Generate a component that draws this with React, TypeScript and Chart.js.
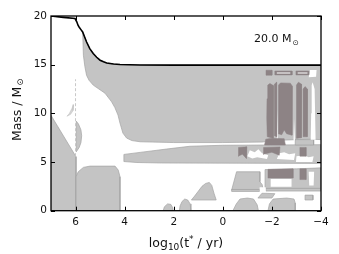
import React, { useEffect, useRef } from 'react';
import { Chart, registerables } from 'chart.js';

Chart.register(...registerables);

type P = [number, number];

// ---- axis ticks ----
const xTicks = [6, 4, 2, 0, -2, -4];
const yTicks = [0, 5, 10, 15, 20];
const starLabel = '20.0 M';

// ---- total stellar mass (log10 t*, M) ----
const totalMass: P[] = [
  [7, 20.0], [6.5, 19.86], [6.02, 19.74], [5.95, 19.4], [5.9, 19.05], [5.85, 18.85],
  [5.78, 18.6], [5.71, 18.36], [5.63, 17.85], [5.55, 17.33], [5.42, 16.65], [5.28, 16.14],
  [5.14, 15.76], [5.0, 15.46], [4.86, 15.3], [4.73, 15.18], [4.45, 15.07], [4.19, 15.02],
  [3.37, 14.96], [2, 14.95], [-4, 14.95],
];

// ---- convective zones (light) ----
const envelope: P[] = [
  [5.71, 18.36], [5.63, 17.85], [5.55, 17.33], [5.42, 16.65], [5.28, 16.14], [5.0, 15.46],
  [4.73, 15.18], [4.45, 15.07], [4.19, 15.02], [3.37, 14.96], [-4, 14.95], [-4, 7.3],
  [-3.6, 7.35], [-3.0, 7.3], [-2.0, 7.2], [-1.6, 7.05], [0, 7.0], [2, 7.0], [3.37, 7.08],
  [3.7, 7.2], [3.92, 7.46], [4.07, 7.97], [4.19, 9.0], [4.27, 9.82], [4.4, 10.6],
  [4.53, 11.18], [4.8, 12.07], [5.05, 12.5], [5.28, 12.9], [5.45, 13.4], [5.55, 13.9],
  [5.62, 14.8], [5.68, 15.97],
];
const leftWedge: P[] = [[7, 9.8], [5.98, 5.54], [5.98, 0], [7, 0]];
const coreBlock: P[] = [
  [5.98, 0], [5.98, 3.49], [5.89, 4.0], [5.68, 4.45], [5.41, 4.58], [4.39, 4.58],
  [4.26, 4.17], [4.19, 3.49], [4.19, 0],
];
const lens: P[] = [[5.97, 9.2], [5.88, 8.9], [5.78, 8.3], [5.75, 7.7], [5.78, 7.0], [5.85, 6.5], [5.97, 6.05]];
const speckle: P[] = [[6.35, 9.7], [6.25, 10.0], [6.15, 10.5], [6.08, 10.9], [6.1, 10.3], [6.2, 9.9]];
const shellBand: P[] = [
  [4.03, 5.05], [4.03, 5.78], [3.37, 5.99], [2.3, 6.33], [1.34, 6.62], [0, 6.72],
  [-4, 6.78], [-4, 4.86], [2.5, 4.9], [3.5, 4.95],
];
const lowerLeftPiece: P[] = [[-0.56, 4.0], [-1.51, 4.0], [-1.51, 2.97], [-1.6, 2.7], [-1.65, 2.12], [-0.36, 2.12]];
const lowerStripA: P[] = [[-0.36, 2.18], [-1.5, 2.18], [-1.5, 1.98], [-0.36, 1.98]];
const lowerStripB: P[] = [[-1.75, 2.3], [-4, 2.3], [-4, 2.02], [-1.75, 2.02]];
const lowerRightPiece: P[] = [[-1.72, 4.22], [-3.0, 4.3], [-4, 4.4], [-4, 2.3], [-1.72, 2.3]];
const fin: P[] = [[1.28, 1.1], [1.15, 1.5], [1.0, 2.0], [0.85, 2.5], [0.7, 2.8], [0.55, 2.9], [0.45, 2.6], [0.36, 1.8], [0.27, 1.1]];
const domeA: P[] = [[2.43, 0], [2.38, 0.4], [2.25, 0.7], [2.12, 0.65], [2.04, 0.3], [2.02, 0]];
const domeB: P[] = [[1.77, 0], [1.74, 0.5], [1.66, 0.95], [1.55, 1.2], [1.43, 1.1], [1.33, 0.7], [1.3, 0]];
const domeC: P[] = [[-0.41, 0], [-0.55, 0.7], [-0.7, 1.2], [-1.0, 1.3], [-1.25, 1.2], [-1.4, 0.6], [-1.45, 0]];
const domeD: P[] = [[-1.84, 0], [-1.9, 0.7], [-2.05, 1.2], [-2.6, 1.3], [-2.9, 1.2], [-2.95, 0.8], [-2.95, 0]];
const bitA: P[] = [[-1.43, 1.3], [-1.6, 1.8], [-2.12, 1.75], [-2.0, 1.3]];
const bitB: P[] = [[-3.35, 1.1], [-3.35, 1.6], [-3.67, 1.6], [-3.67, 1.1]];
const bridgeLight: P[] = [[-2.95, 6.75], [-2.95, 7.3], [-3.7, 7.3], [-3.7, 6.75]];

// ---- dark (overlapping) zones ----
const darkTop1: P[] = [[-1.76, 13.92], [-1.76, 14.43], [-2.0, 14.43], [-2.0, 13.92]];
const darkTop2: P[] = [[-2.12, 13.95], [-2.12, 14.35], [-2.82, 14.35], [-2.82, 13.95]];
const darkTop3: P[] = [[-2.98, 13.95], [-2.98, 14.35], [-3.5, 14.35], [-3.5, 13.95]];
const stripe1: P[] = [[-1.81, 7.6], [-1.79, 9.5], [-1.8, 11.5], [-1.83, 12.9], [-1.92, 13.07], [-2.06, 12.85], [-2.05, 10.0], [-2.06, 7.45]];
const stripe2: P[] = [[-2.1, 7.7], [-2.1, 13.0], [-2.19, 13.2], [-2.19, 7.6]];
const stripe3: P[] = [[-2.26, 7.9], [-2.27, 12.9], [-2.35, 13.13], [-2.75, 13.1], [-2.83, 12.8], [-2.82, 7.76], [-2.6, 7.9], [-2.5, 8.3], [-2.4, 7.8]];
const stripe4: P[] = [[-3.0, 7.43], [-3.0, 12.9], [-3.08, 13.2], [-3.21, 13.0], [-3.2, 7.5]];
const stripe5: P[] = [[-3.28, 7.6], [-3.27, 12.5], [-3.35, 12.75], [-3.45, 12.5], [-3.44, 7.6]];
const bridgeDark: P[] = [[-1.7, 6.75], [-1.75, 7.35], [-2.0, 7.45], [-2.5, 7.4], [-2.55, 6.75]];
const bandDark1: P[] = [[-0.62, 5.6], [-0.64, 6.5], [-0.98, 6.56], [-0.96, 5.37], [-0.8, 5.8]];
const bandDark2: P[] = [[-1.64, 5.8], [-1.66, 6.5], [-2.33, 6.55], [-2.3, 5.7], [-2.0, 6.0]];
const bandDark3: P[] = [[-3.14, 5.6], [-3.14, 6.5], [-3.39, 6.5], [-3.39, 5.6]];
const lowDark1: P[] = [[-1.84, 4.25], [-2.86, 4.3], [-2.86, 3.35], [-1.84, 3.35]];
const lowDark2: P[] = [[-3.14, 4.3], [-3.39, 4.3], [-3.39, 3.2], [-3.14, 3.2]];

// ---- gaps (radiative streaks) ----
const gapTop1: P[] = [[-2.2, 14.1], [-2.2, 14.2], [-2.75, 14.2], [-2.75, 14.1]];
const gapTop2: P[] = [[-3.05, 14.1], [-3.05, 14.2], [-3.45, 14.2], [-3.45, 14.1]];
const gapTop3: P[] = [[-3.5, 13.7], [-3.55, 14.45], [-3.82, 14.45], [-3.8, 13.75]];
const gapStreak1: P[] = [[-3.58, 7.3], [-3.6, 10], [-3.62, 12.9], [-3.66, 13.2], [-3.74, 12.5], [-3.76, 10.0], [-3.78, 7.3]];
const gapStreak2: P[] = [[-2.2, 7.2], [-2.22, 10.5], [-2.24, 7.2]];
const gapStreak3: P[] = [[-2.88, 7.2], [-2.9, 9.5], [-2.94, 7.2]];
const bandGap1: P[] = [[-1.0, 5.6], [-1.1, 6.2], [-1.3, 6.0], [-1.45, 6.3], [-1.6, 5.9], [-1.85, 5.7], [-1.8, 5.3], [-1.4, 5.5], [-1.2, 5.35]];
const bandGap2: P[] = [[-2.2, 5.3], [-2.3, 5.9], [-2.5, 6.0], [-2.7, 5.8], [-2.95, 5.9], [-2.9, 5.2]];
const bandGap3: P[] = [[-2.98, 5.0], [-3.0, 5.6], [-3.3, 5.7], [-3.5, 5.5], [-3.7, 5.6], [-3.65, 5.0]];
const lowGap1: P[] = [[-1.95, 3.25], [-2.8, 3.25], [-2.8, 2.45], [-1.95, 2.45]];
const lowGap2: P[] = [[-3.5, 4.0], [-3.72, 4.0], [-3.7, 2.6], [-3.52, 2.6]];
const lowGap3: P[] = [[-1.5, 2.4], [-1.75, 2.4], [-1.75, 1.9], [-1.5, 1.9]];

const faintLine: P[] = [[6.0, 5.6], [6.0, 13.5]];

const LIGHT = '#c4c4c4';
const PALE = '#d6d6d6';
const DARK = '#8d8385';
const EDGE = '#a4a4a4';
const WHITE = '#ffffff';

const layers: { pts: P[]; fill: string; edge: string; bw: number }[] = [
  ...[envelope, leftWedge, coreBlock, lens, shellBand, lowerLeftPiece, lowerStripA, lowerStripB,
    lowerRightPiece, fin, domeA, domeB, domeC, domeD, bitA, bitB, bridgeLight].map((pts) => ({ pts, fill: LIGHT, edge: EDGE, bw: 0.7 })),
  { pts: speckle, fill: PALE, edge: '#bdbdbd', bw: 0.5 },
  ...[gapStreak1, gapStreak2, gapStreak3, bandGap1, bandGap2, bandGap3, lowGap1, lowGap2, lowGap3, gapTop3]
    .map((pts) => ({ pts, fill: WHITE, edge: WHITE, bw: 0 })),
  ...[darkTop1, darkTop2, darkTop3, stripe1, stripe2, stripe3, stripe4, stripe5, bridgeDark,
    bandDark1, bandDark2, bandDark3, lowDark1, lowDark2].map((pts) => ({ pts, fill: DARK, edge: DARK, bw: 0.5 })),
  ...[gapTop1, gapTop2].map((pts) => ({ pts, fill: WHITE, edge: WHITE, bw: 0 })),
];

const FONT = 'DejaVu Sans';

function fmtTick(v: number) {
  return v < 0 ? '\u2212' + Math.abs(v) : String(v);
}

const framePlugin = {
  id: 'frameAndText',
  afterDraw(chart: any) {
    const { ctx, chartArea: a, scales } = chart;
    const xs = scales.x;
    const ys = scales.y;
    ctx.save();
    ctx.strokeStyle = '#000';
    ctx.lineWidth = 1;
    const L = 4;
    ctx.beginPath();
    for (const v of xTicks) {
      const px = Math.round(xs.getPixelForValue(v)) + 0.5;
      ctx.moveTo(px, a.bottom); ctx.lineTo(px, a.bottom - L);
      ctx.moveTo(px, a.top); ctx.lineTo(px, a.top + L);
    }
    for (const v of yTicks) {
      const py = Math.round(ys.getPixelForValue(v)) + 0.5;
      ctx.moveTo(a.left, py); ctx.lineTo(a.left + L, py);
      ctx.moveTo(a.right, py); ctx.lineTo(a.right - L, py);
    }
    ctx.stroke();
    ctx.lineWidth = 1.3;
    ctx.strokeRect(a.left, a.top, a.right - a.left, a.bottom - a.top);

    ctx.fillStyle = '#111';
    ctx.textBaseline = 'alphabetic';
    ctx.textAlign = 'left';
    ctx.font = `11px "${FONT}"`;
    const lx = a.right - 67;
    const ly = a.top + 26;
    ctx.fillText(starLabel, lx, ly);
    const w1 = ctx.measureText(starLabel).width;
    ctx.font = `7.5px "${FONT}"`;
    ctx.fillText('\u2299', lx + w1 + 1, ly + 3);

    const big = `12.5px "${FONT}"`;
    const small = `9px "${FONT}"`;
    const parts: [string, string, number][] = [
      ['log', big, 0], ['10', small, 3.5], ['(t', big, 0], ['*', small, -5], [' / yr)', big, 0],
    ];
    let total = 0;
    for (const [t, f] of parts) { ctx.font = f; total += ctx.measureText(t).width; }
    let cx = (a.left + a.right) / 2 - total / 2;
    const by = 246.5;
    for (const [t, f, dy] of parts) {
      ctx.font = f;
      ctx.fillText(t, cx, by + dy);
      cx += ctx.measureText(t).width;
    }

    ctx.translate(20.5, (a.top + a.bottom) / 2 - 3);
    ctx.rotate(-Math.PI / 2);
    const yparts: [string, string, number][] = [['Mass / M', big, 0], ['\u2299', `8.5px "${FONT}"`, 2.5]];
    total = 0;
    for (const [t, f] of yparts) { ctx.font = f; total += ctx.measureText(t).width; }
    cx = -total / 2;
    for (const [t, f, dy] of yparts) {
      ctx.font = f;
      ctx.fillText(t, cx, dy);
      cx += ctx.measureText(t).width + 1;
    }
    ctx.restore();
  },
};

export default function App() {
  const ref = useRef<HTMLCanvasElement | null>(null);
  useEffect(() => {
    if (!ref.current) return;
    const datasets: any[] = layers.map((l, i) => ({
      type: 'line',
      data: [...l.pts, l.pts[0]].map(([x, y]) => ({ x, y })),
      fill: 'shape',
      backgroundColor: l.fill,
      borderColor: l.edge,
      borderWidth: l.bw,
      pointRadius: 0,
      tension: 0,
      order: 1000 - i,
    }));
    datasets.push({
      type: 'line',
      data: faintLine.map(([x, y]) => ({ x, y })),
      fill: false,
      borderColor: '#c8c8c8',
      borderWidth: 1,
      borderDash: [3, 2],
      pointRadius: 0,
      order: 5,
    });
    datasets.push({
      type: 'line',
      data: totalMass.map(([x, y]) => ({ x, y })),
      fill: false,
      borderColor: '#000',
      borderWidth: 1.6,
      pointRadius: 0,
      tension: 0,
      order: 0,
    });
    const chart = new Chart(ref.current, {
      type: 'line',
      data: { datasets },
      options: {
        animation: false,
        responsive: false,
        devicePixelRatio: 1,
        events: [],
        layout: { padding: { left: 0, right: 18, top: 16, bottom: 0 } },
        plugins: {
          legend: { display: false },
          tooltip: { enabled: false },
          filler: { drawTime: 'beforeDatasetDraw', propagate: false },
        },
        scales: {
          x: {
            type: 'linear',
            reverse: true,
            min: -4,
            max: 7,
            grid: { display: false, drawTicks: false },
            border: { display: false },
            afterBuildTicks: (s: any) => { s.ticks = xTicks.map((value) => ({ value })); },
            afterFit: (s: any) => { s.height = 43.3; },
            ticks: {
              padding: 5,
              color: '#111',
              font: { family: FONT, size: 10.5 },
              maxRotation: 0,
              callback: (v: any) => fmtTick(Number(v)),
            },
          },
          y: {
            type: 'linear',
            min: 0,
            max: 20,
            grid: { display: false, drawTicks: false },
            border: { display: false },
            afterBuildTicks: (s: any) => { s.ticks = yTicks.map((value) => ({ value })); },
            afterFit: (s: any) => { s.width = 51; },
            ticks: {
              padding: 4,
              color: '#111',
              font: { family: FONT, size: 10.5 },
              callback: (v: any) => fmtTick(Number(v)),
            },
          },
        },
      } as any,
      plugins: [framePlugin],
    });
    return () => chart.destroy();
  }, []);
  return (
    <div style={{ position: 'absolute', left: 0, top: 0, width: 339, height: 254, background: '#fff' }}>
      <canvas ref={ref} width={339} height={254} style={{ display: 'block', width: 339, height: 254 }} />
    </div>
  );
}
